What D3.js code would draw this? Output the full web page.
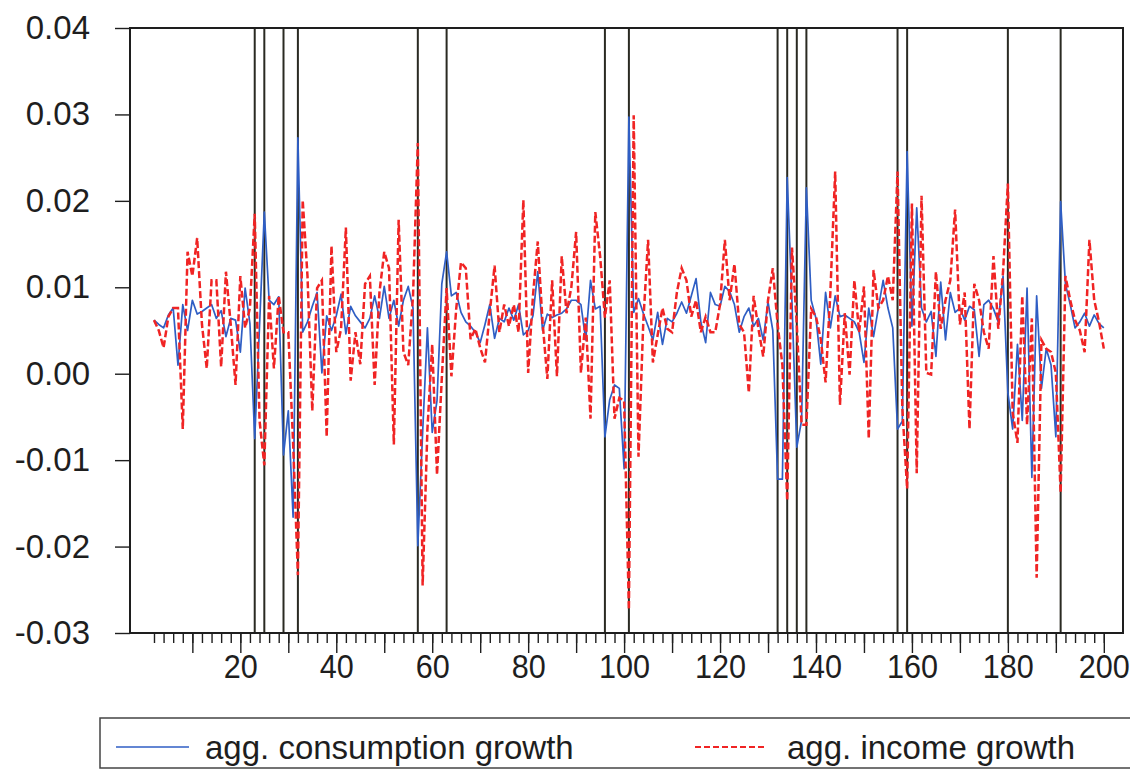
<!DOCTYPE html>
<html><head><meta charset="utf-8">
<script src="https://cdn.jsdelivr.net/npm/d3@7"></script>
<style>body{margin:0;background:#fff}svg{display:block}text{font-family:"Liberation Sans",Arial,sans-serif}</style>
</head><body><svg id="c" width="1130" height="770"></svg>
<script>
const startObs = 2;
const consumption = [0.0062,0.0057,0.0053,0.0068,0.0076,0.0010,0.0080,0.0050,0.0085,0.0069,
0.0072,0.0076,0.0080,0.0064,0.0073,0.0043,0.0064,0.0062,0.0025,0.0099,
0.0058,-0.0075,0.0055,0.0187,0.0085,0.0080,0.0089,-0.0094,-0.0043,-0.0166,
0.0273,0.0048,0.0060,0.0078,0.0094,0.0001,0.0067,0.0050,0.0067,0.0092,
0.0046,0.0078,0.0067,0.0060,0.0053,0.0064,0.0090,0.0064,0.0101,0.0064,
0.0085,0.0055,0.0085,0.0101,0.0076,-0.0199,-0.0068,0.0053,-0.0068,-0.0031,
0.0104,0.0141,0.0090,0.0094,0.0071,0.0060,0.0055,0.0048,0.0036,0.0057,
0.0080,0.0041,0.0064,0.0060,0.0076,0.0062,0.0080,0.0045,0.0050,0.0067,
0.0118,0.0050,0.0069,0.0065,0.0068,0.0070,0.0075,0.0085,0.0085,0.0080,
0.0039,0.0108,0.0075,0.0078,-0.0073,-0.0030,-0.0013,-0.0017,-0.0110,0.0297,
0.0071,0.0087,0.0070,0.0055,0.0039,0.0071,0.0034,0.0064,0.0060,0.0070,
0.0083,0.0070,0.0090,0.0110,0.0060,0.0036,0.0094,0.0080,0.0078,0.0101,
0.0095,0.0080,0.0048,0.0066,0.0076,0.0055,0.0064,0.0039,0.0083,0.0050,
-0.0122,-0.0122,0.0227,0.0082,-0.0085,-0.0054,0.0215,0.0085,0.0064,0.0011,
0.0094,0.0053,0.0090,0.0066,0.0068,0.0064,0.0060,0.0048,0.0013,0.0076,
0.0043,0.0076,0.0108,0.0076,0.0053,-0.0064,-0.0055,0.0257,0.0055,0.0192,
0.0076,0.0060,0.0072,0.0020,0.0106,0.0039,0.0094,0.0071,0.0076,0.0062,
0.0078,0.0074,0.0020,0.0080,0.0085,0.0075,0.0060,0.0113,-0.0022,-0.0064,
0.0034,-0.0054,0.0099,-0.0120,0.0090,-0.0017,0.0029,0.0010,-0.0073,0.0199,
0.0104,0.0080,0.0053,0.0060,0.0070,0.0055,0.0068,0.0058,0.0053];
const income = [0.0062,0.0050,0.0030,0.0066,0.0076,0.0076,-0.0064,0.0141,0.0113,0.0157,
0.0057,0.0006,0.0108,0.0108,0.0008,0.0118,0.0057,-0.0013,0.0113,0.0053,
0.0076,0.0185,-0.0054,-0.0106,0.0090,0.0006,0.0090,0.0048,0.0048,-0.0080,
-0.0233,0.0201,0.0113,-0.0043,0.0099,0.0108,-0.0073,0.0148,0.0025,0.0052,
0.0169,-0.0008,0.0048,0.0011,0.0104,0.0113,-0.0013,0.0094,0.0141,0.0122,
-0.0082,0.0178,0.0025,0.0010,0.0090,0.0267,-0.0245,-0.0064,0.0034,-0.0117,
-0.0005,0.0099,-0.0003,0.0075,0.0129,0.0122,0.0040,0.0052,0.0030,0.0013,
0.0071,0.0125,0.0048,0.0080,0.0055,0.0080,0.0048,0.0201,0.0001,0.0090,
0.0153,0.0060,-0.0006,0.0108,-0.0003,0.0136,0.0070,0.0100,0.0164,0.0001,
0.0065,-0.0052,0.0187,0.0136,0.0065,0.0108,-0.0052,-0.0028,-0.0031,-0.0273,
0.0299,-0.0096,0.0060,0.0155,0.0013,0.0045,0.0076,0.0052,0.0048,0.0094,
0.0122,0.0108,0.0066,0.0085,0.0048,0.0066,0.0048,0.0048,0.0080,0.0155,
0.0085,0.0127,0.0057,0.0048,-0.0022,0.0090,0.0052,0.0020,0.0085,0.0122,
0.0057,0.0010,-0.0147,0.0146,0.0057,-0.0059,-0.0059,0.0075,0.0066,0.0040,
-0.0010,0.0094,0.0234,-0.0036,0.0070,-0.0001,0.0108,0.0048,0.0101,-0.0075,
0.0120,0.0076,0.0085,0.0113,0.0085,0.0234,-0.0040,-0.0133,0.0197,-0.0115,
0.0206,0.0001,-0.0001,0.0118,0.0052,0.0085,0.0108,0.0190,0.0057,0.0094,
-0.0064,0.0104,0.0085,0.0048,0.0029,0.0136,0.0052,0.0118,0.0220,-0.0045,
-0.0080,0.0090,-0.0059,0.0064,-0.0236,0.0039,0.0029,0.0025,0.0001,-0.0138,
0.0113,0.0085,0.0062,0.0050,0.0025,0.0155,0.0085,0.0060,0.0029];
const markerObs = [23,25,29,32,57,63,96,101,132,134,136,138,157,159,180,191];
const yTicks = [-0.03,-0.02,-0.01,0,0.01,0.02,0.03,0.04];
const xLabelTicks = [20,40,60,80,100,120,140,160,180,200];
const seriesNames = ["agg. consumption growth","agg. income growth"];

const svg = d3.select("#c");
const L=130, R=1123, T=28, B=633;
const x = d3.scaleLinear().domain([-3,204]).range([L,R]);
const y = d3.scaleLinear().domain([-0.03,0.04]).range([B,T]);

const ink="#1e1e1e";
const font="Liberation Sans, Arial, sans-serif";
// vertical marker lines
svg.append("g").selectAll("line").data(markerObs).join("line")
  .attr("x1",d=>x(d)).attr("x2",d=>x(d)).attr("y1",T).attr("y2",B)
  .attr("stroke","#2a2a22").attr("stroke-width",2);

const cons = consumption.map((v,i)=>({o:startObs+i,v}));
const inc = income.map((v,i)=>({o:startObs+i,v}));
const line = d3.line().x(d=>x(d.o)).y(d=>y(d.v));

svg.append("path").datum(cons).attr("d",line).attr("fill","none")
  .attr("stroke","#2f5ec4").attr("stroke-width",1.7).attr("stroke-linejoin","round");
svg.append("path").datum(inc).attr("d",line).attr("fill","none")
  .attr("stroke","#f02424").attr("stroke-width",2.5).attr("stroke-dasharray","7,3");

// frame
svg.append("rect").attr("x",L).attr("y",T).attr("width",R-L).attr("height",B-T)
  .attr("fill","none").attr("stroke",ink).attr("stroke-width",2);

// axes
const gx = svg.append("g").attr("transform",`translate(0,${B})`);
gx.append("g").call(d3.axisBottom(x).tickValues(d3.range(2,201,2)).tickSize(10).tickFormat(""));
gx.append("g").call(d3.axisBottom(x).tickValues(d3.range(10,201,10)).tickSize(20).tickFormat(""));
const lab = gx.append("g").call(d3.axisBottom(x).tickValues(xLabelTicks).tickSize(0).tickFormat(""));
lab.selectAll(".tick").append("text")
  .attr("transform","scale(0.9,1)").attr("y",45).attr("text-anchor","middle")
  .attr("font-size",34).attr("font-family",font).attr("fill",ink).text(d=>String(d));
gx.selectAll(".domain").remove();
gx.selectAll("line").attr("stroke",ink).attr("stroke-width",1.4);

const gy = svg.append("g").attr("transform",`translate(${L},0)`)
  .call(d3.axisLeft(y).tickValues(yTicks).tickSize(15).tickPadding(25).tickFormat(d=>d.toFixed(2)));
gy.select(".domain").remove();
gy.selectAll("line").attr("stroke",ink).attr("stroke-width",1.4);
gy.selectAll("text").attr("font-size",33).attr("fill",ink).attr("font-family",font);

// legend
const lg = svg.append("g");
lg.append("rect").attr("x",100).attr("y",718).attr("width",1045).attr("height",50)
  .attr("fill","none").attr("stroke","#444").attr("stroke-width",1.5);
lg.append("line").attr("x1",116).attr("x2",189).attr("y1",747).attr("y2",747)
  .attr("stroke","#2f5ec4").attr("stroke-width",1.6);
lg.append("text").attr("x",205).attr("y",759).attr("font-size",33).attr("font-family",font).attr("fill",ink).text(seriesNames[0]);
lg.append("line").attr("x1",695).attr("x2",767).attr("y1",747).attr("y2",747)
  .attr("stroke","#f02424").attr("stroke-width",1.8).attr("stroke-dasharray","6,3");
lg.append("text").attr("x",787).attr("y",759).attr("font-size",33).attr("font-family",font).attr("fill",ink).text(seriesNames[1]);
</script></body></html>
